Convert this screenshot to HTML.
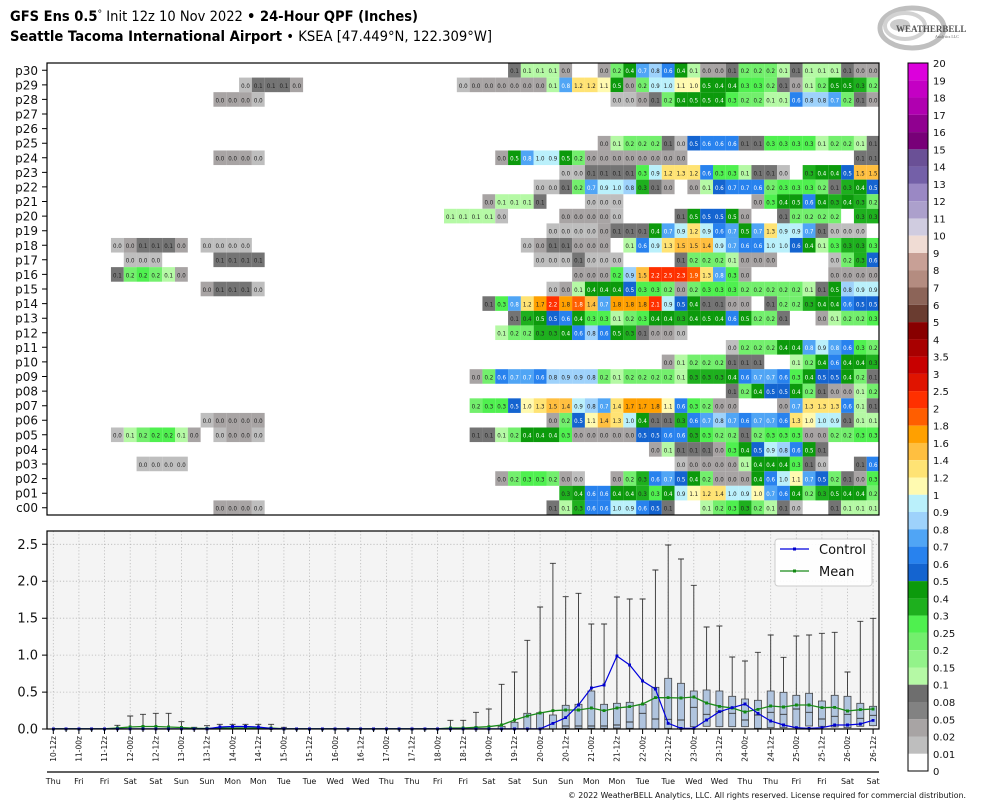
<!DOCTYPE html>
<html><head><meta charset="utf-8"><style>
html,body{margin:0;padding:0;background:#fff}
svg{display:block}
.hm rect{y:-7px;width:10px;height:10px}
.hm text{font-family:"DejaVu Sans",sans-serif;font-size:4.3px;text-anchor:middle;fill:#222}
.a{fill:#bebebe}.b{fill:#a8a4a4}.c{fill:#747474}.d{fill:#b5f9a5}.f{fill:#73ef6d}.g{fill:#4ff04f}.h{fill:#1eb01e}.i{fill:#0c9a0c}.j{fill:#1464d0}.k{fill:#2882ee}.l{fill:#50a5f5}.m{fill:#9ed2fb}.n{fill:#baf0fb}.o{fill:#fffab0}.p{fill:#ffe374}.q{fill:#ffbf40}.r{fill:#ffa000}.s{fill:#ff5e00}.t{fill:#ff3000}
.i+text,.j+text,.k+text,.l+text,.s+text,.t+text{fill:#fff}
.yl{font-family:"DejaVu Sans",sans-serif;font-size:12px;text-anchor:end;fill:#111}
.xl{font-family:"DejaVu Sans",sans-serif;font-size:7.5px;text-anchor:end;fill:#111}
.dl{font-family:"DejaVu Sans",sans-serif;font-size:8px;text-anchor:middle;fill:#111}
.cb{font-family:"DejaVu Sans",sans-serif;font-size:10px;fill:#111}
</style></head><body>
<svg width="984" height="808" viewBox="0 0 984 808" xmlns="http://www.w3.org/2000/svg">
<rect width="984" height="808" fill="#fff"/>
<!-- titles -->
<text x="10" y="21" font-family="DejaVu Sans,sans-serif" font-size="14" textLength="408" lengthAdjust="spacingAndGlyphs"><tspan font-weight="bold">GFS Ens 0.5</tspan><tspan font-size="10" dy="-4">°</tspan><tspan dy="4"> Init 12z 10 Nov 2022 </tspan><tspan font-weight="bold">• 24-Hour QPF (Inches)</tspan></text>
<text x="10" y="41" font-family="DejaVu Sans,sans-serif" font-size="14" textLength="482" lengthAdjust="spacingAndGlyphs"><tspan font-weight="bold">Seattle Tacoma International Airport</tspan><tspan> • KSEA [47.449°N, 122.309°W]</tspan></text>
<!-- logo -->
<g opacity="0.75">
<ellipse cx="912" cy="28" rx="32" ry="20" fill="none" stroke="#aaa" stroke-width="5"/>
<ellipse cx="905" cy="26" rx="20" ry="13" fill="none" stroke="#c4c4c4" stroke-width="4"/>
<ellipse cx="900" cy="25" rx="10" ry="6" fill="#bbb"/>
</g>
<text x="896" y="32" font-family="Liberation Serif,serif" font-size="9" fill="#555" font-weight="bold">WEATHERBELL</text>
<text x="935" y="38" font-family="Liberation Serif,serif" font-size="4" fill="#666">Analytics LLC</text>

<!-- heatmap y labels -->
<g class="yl">
<text x="38" y="75">p30</text><text x="38" y="89.5">p29</text><text x="38" y="104">p28</text><text x="38" y="118.5">p27</text><text x="38" y="133">p26</text><text x="38" y="147.7">p25</text><text x="38" y="162.3">p24</text><text x="38" y="176.9">p23</text><text x="38" y="191.4">p22</text><text x="38" y="206">p21</text><text x="38" y="220.6">p20</text><text x="38" y="235.2">p19</text><text x="38" y="249.8">p18</text><text x="38" y="264.3">p17</text><text x="38" y="278.9">p16</text><text x="38" y="293.5">p15</text><text x="38" y="308.1">p14</text><text x="38" y="322.7">p13</text><text x="38" y="337.3">p12</text><text x="38" y="351.8">p11</text><text x="38" y="366.4">p10</text><text x="38" y="381">p09</text><text x="38" y="395.6">p08</text><text x="38" y="410.2">p07</text><text x="38" y="424.7">p06</text><text x="38" y="439.3">p05</text><text x="38" y="453.9">p04</text><text x="38" y="468.5">p03</text><text x="38" y="483.1">p02</text><text x="38" y="497.7">p01</text><text x="38" y="512.2">c00</text>
</g>
<path d="M42 70.3H47M42 84.9H47M42 99.4H47M42 114H47M42 128.6H47M42 143.2H47M42 157.8H47M42 172.4H47M42 186.9H47M42 201.5H47M42 216.1H47M42 230.7H47M42 245.3H47M42 259.8H47M42 274.4H47M42 289H47M42 303.6H47M42 318.2H47M42 332.8H47M42 347.3H47M42 361.9H47M42 376.5H47M42 391.1H47M42 405.7H47M42 420.2H47M42 434.8H47M42 449.4H47M42 464H47M42 478.6H47M42 493.2H47M42 507.7H47" stroke="#000" stroke-width="1"/>

<!-- heatmap -->
<svg x="47" y="63" width="832" height="452" overflow="hidden">
<g class="hm" transform="translate(-0.1,0) scale(1.281,1.458)">
<g transform="translate(0,7)"><rect x="360" class="c"/><text x="365">0.1</text><rect x="370" class="d"/><text x="375">0.1</text><rect x="380" class="d"/><text x="385">0.1</text><rect x="390" class="d"/><text x="395">0.1</text><rect x="400" class="b"/><text x="405">0.0</text><rect x="430" class="b"/><text x="435">0.0</text><rect x="440" class="f"/><text x="445">0.2</text><rect x="450" class="i"/><text x="455">0.4</text><rect x="460" class="l"/><text x="465">0.7</text><rect x="470" class="m"/><text x="475">0.8</text><rect x="480" class="k"/><text x="485">0.6</text><rect x="490" class="i"/><text x="495">0.4</text><rect x="500" class="d"/><text x="505">0.1</text><rect x="510" class="b"/><text x="515">0.0</text><rect x="520" class="b"/><text x="525">0.0</text><rect x="530" class="c"/><text x="535">0.1</text><rect x="540" class="f"/><text x="545">0.2</text><rect x="550" class="f"/><text x="555">0.2</text><rect x="560" class="f"/><text x="565">0.2</text><rect x="570" class="d"/><text x="575">0.1</text><rect x="580" class="c"/><text x="585">0.1</text><rect x="590" class="d"/><text x="595">0.1</text><rect x="600" class="d"/><text x="605">0.1</text><rect x="610" class="d"/><text x="615">0.1</text><rect x="620" class="c"/><text x="625">0.1</text><rect x="630" class="b"/><text x="635">0.0</text><rect x="640" class="b"/><text x="645">0.0</text></g>
<g transform="translate(0,17)"><rect x="150" class="a"/><text x="155">0.0</text><rect x="160" class="c"/><text x="165">0.1</text><rect x="170" class="c"/><text x="175">0.1</text><rect x="180" class="c"/><text x="185">0.1</text><rect x="190" class="b"/><text x="195">0.0</text><rect x="320" class="a"/><text x="325">0.0</text><rect x="330" class="b"/><text x="335">0.0</text><rect x="340" class="b"/><text x="345">0.0</text><rect x="350" class="b"/><text x="355">0.0</text><rect x="360" class="b"/><text x="365">0.0</text><rect x="370" class="b"/><text x="375">0.0</text><rect x="380" class="b"/><text x="385">0.0</text><rect x="390" class="d"/><text x="395">0.1</text><rect x="400" class="l"/><text x="405">0.8</text><rect x="410" class="p"/><text x="415">1.2</text><rect x="420" class="p"/><text x="425">1.2</text><rect x="430" class="o"/><text x="435">1.1</text><rect x="440" class="i"/><text x="445">0.5</text><rect x="450" class="b"/><text x="455">0.0</text><rect x="460" class="f"/><text x="465">0.2</text><rect x="470" class="n"/><text x="475">0.9</text><rect x="480" class="n"/><text x="485">1.0</text><rect x="490" class="o"/><text x="495">1.1</text><rect x="500" class="o"/><text x="505">1.0</text><rect x="510" class="i"/><text x="515">0.5</text><rect x="520" class="i"/><text x="525">0.4</text><rect x="530" class="i"/><text x="535">0.4</text><rect x="540" class="g"/><text x="545">0.3</text><rect x="550" class="g"/><text x="555">0.3</text><rect x="560" class="f"/><text x="565">0.2</text><rect x="570" class="c"/><text x="575">0.1</text><rect x="580" class="b"/><text x="585">0.0</text><rect x="590" class="d"/><text x="595">0.1</text><rect x="600" class="f"/><text x="605">0.2</text><rect x="610" class="i"/><text x="615">0.5</text><rect x="620" class="i"/><text x="625">0.5</text><rect x="630" class="h"/><text x="635">0.3</text><rect x="640" class="f"/><text x="645">0.2</text></g>
<g transform="translate(0,27)"><rect x="130" class="b"/><text x="135">0.0</text><rect x="140" class="b"/><text x="145">0.0</text><rect x="150" class="b"/><text x="155">0.0</text><rect x="160" class="a"/><text x="165">0.0</text><rect x="440" class="a"/><text x="445">0.0</text><rect x="450" class="a"/><text x="455">0.0</text><rect x="460" class="b"/><text x="465">0.0</text><rect x="470" class="c"/><text x="475">0.1</text><rect x="480" class="f"/><text x="485">0.2</text><rect x="490" class="i"/><text x="495">0.4</text><rect x="500" class="i"/><text x="505">0.5</text><rect x="510" class="i"/><text x="515">0.5</text><rect x="520" class="i"/><text x="525">0.4</text><rect x="530" class="g"/><text x="535">0.3</text><rect x="540" class="f"/><text x="545">0.2</text><rect x="550" class="f"/><text x="555">0.2</text><rect x="560" class="d"/><text x="565">0.1</text><rect x="570" class="d"/><text x="575">0.1</text><rect x="580" class="k"/><text x="585">0.6</text><rect x="590" class="m"/><text x="595">0.8</text><rect x="600" class="m"/><text x="605">0.8</text><rect x="610" class="l"/><text x="615">0.7</text><rect x="620" class="f"/><text x="625">0.2</text><rect x="630" class="c"/><text x="635">0.1</text><rect x="640" class="b"/><text x="645">0.0</text></g>
<g transform="translate(0,57)"><rect x="430" class="b"/><text x="435">0.0</text><rect x="440" class="d"/><text x="445">0.1</text><rect x="450" class="f"/><text x="455">0.2</text><rect x="460" class="f"/><text x="465">0.2</text><rect x="470" class="f"/><text x="475">0.2</text><rect x="480" class="c"/><text x="485">0.1</text><rect x="490" class="a"/><text x="495">0.0</text><rect x="500" class="j"/><text x="505">0.5</text><rect x="510" class="k"/><text x="515">0.6</text><rect x="520" class="k"/><text x="525">0.6</text><rect x="530" class="k"/><text x="535">0.6</text><rect x="540" class="c"/><text x="545">0.1</text><rect x="550" class="c"/><text x="555">0.1</text><rect x="560" class="g"/><text x="565">0.3</text><rect x="570" class="g"/><text x="575">0.3</text><rect x="580" class="g"/><text x="585">0.3</text><rect x="590" class="g"/><text x="595">0.3</text><rect x="600" class="d"/><text x="605">0.1</text><rect x="610" class="f"/><text x="615">0.2</text><rect x="620" class="f"/><text x="625">0.2</text><rect x="630" class="d"/><text x="635">0.1</text><rect x="640" class="c"/><text x="645">0.1</text></g>
<g transform="translate(0,67)"><rect x="130" class="b"/><text x="135">0.0</text><rect x="140" class="b"/><text x="145">0.0</text><rect x="150" class="b"/><text x="155">0.0</text><rect x="160" class="a"/><text x="165">0.0</text><rect x="350" class="b"/><text x="355">0.0</text><rect x="360" class="i"/><text x="365">0.5</text><rect x="370" class="l"/><text x="375">0.8</text><rect x="380" class="n"/><text x="385">1.0</text><rect x="390" class="n"/><text x="395">0.9</text><rect x="400" class="i"/><text x="405">0.5</text><rect x="410" class="f"/><text x="415">0.2</text><rect x="420" class="b"/><text x="425">0.0</text><rect x="430" class="b"/><text x="435">0.0</text><rect x="440" class="b"/><text x="445">0.0</text><rect x="450" class="b"/><text x="455">0.0</text><rect x="460" class="b"/><text x="465">0.0</text><rect x="470" class="b"/><text x="475">0.0</text><rect x="480" class="b"/><text x="485">0.0</text><rect x="490" class="b"/><text x="495">0.0</text><rect x="630" class="c"/><text x="635">0.1</text><rect x="640" class="c"/><text x="645">0.1</text></g>
<g transform="translate(0,77)"><rect x="400" class="a"/><text x="405">0.0</text><rect x="410" class="a"/><text x="415">0.0</text><rect x="420" class="c"/><text x="425">0.1</text><rect x="430" class="c"/><text x="435">0.1</text><rect x="440" class="c"/><text x="445">0.1</text><rect x="450" class="c"/><text x="455">0.1</text><rect x="460" class="g"/><text x="465">0.3</text><rect x="470" class="n"/><text x="475">0.9</text><rect x="480" class="p"/><text x="485">1.2</text><rect x="490" class="p"/><text x="495">1.3</text><rect x="500" class="p"/><text x="505">1.2</text><rect x="510" class="k"/><text x="515">0.6</text><rect x="520" class="g"/><text x="525">0.3</text><rect x="530" class="g"/><text x="535">0.3</text><rect x="540" class="d"/><text x="545">0.1</text><rect x="550" class="c"/><text x="555">0.1</text><rect x="560" class="c"/><text x="565">0.1</text><rect x="570" class="a"/><text x="575">0.0</text><rect x="590" class="h"/><text x="595">0.3</text><rect x="600" class="i"/><text x="605">0.4</text><rect x="610" class="i"/><text x="615">0.4</text><rect x="620" class="j"/><text x="625">0.5</text><rect x="630" class="q"/><text x="635">1.5</text><rect x="640" class="q"/><text x="645">1.5</text></g>
<g transform="translate(0,87)"><rect x="380" class="a"/><text x="385">0.0</text><rect x="390" class="a"/><text x="395">0.0</text><rect x="400" class="c"/><text x="405">0.1</text><rect x="410" class="f"/><text x="415">0.2</text><rect x="420" class="l"/><text x="425">0.7</text><rect x="430" class="n"/><text x="435">0.9</text><rect x="440" class="n"/><text x="445">1.0</text><rect x="450" class="m"/><text x="455">0.8</text><rect x="460" class="h"/><text x="465">0.3</text><rect x="470" class="c"/><text x="475">0.1</text><rect x="480" class="b"/><text x="485">0.0</text><rect x="500" class="b"/><text x="505">0.0</text><rect x="510" class="d"/><text x="515">0.1</text><rect x="520" class="j"/><text x="525">0.6</text><rect x="530" class="k"/><text x="535">0.7</text><rect x="540" class="k"/><text x="545">0.7</text><rect x="550" class="k"/><text x="555">0.6</text><rect x="560" class="f"/><text x="565">0.2</text><rect x="570" class="g"/><text x="575">0.3</text><rect x="580" class="g"/><text x="585">0.3</text><rect x="590" class="g"/><text x="595">0.3</text><rect x="600" class="f"/><text x="605">0.2</text><rect x="610" class="c"/><text x="615">0.1</text><rect x="620" class="h"/><text x="625">0.3</text><rect x="630" class="i"/><text x="635">0.4</text><rect x="640" class="j"/><text x="645">0.5</text></g>
<g transform="translate(0,97)"><rect x="340" class="b"/><text x="345">0.0</text><rect x="350" class="d"/><text x="355">0.1</text><rect x="360" class="d"/><text x="365">0.1</text><rect x="370" class="d"/><text x="375">0.1</text><rect x="380" class="c"/><text x="385">0.1</text><rect x="420" class="a"/><text x="425">0.0</text><rect x="430" class="a"/><text x="435">0.0</text><rect x="440" class="a"/><text x="445">0.0</text><rect x="550" class="b"/><text x="555">0.0</text><rect x="560" class="g"/><text x="565">0.3</text><rect x="570" class="i"/><text x="575">0.4</text><rect x="580" class="i"/><text x="585">0.5</text><rect x="590" class="k"/><text x="595">0.6</text><rect x="600" class="i"/><text x="605">0.4</text><rect x="610" class="h"/><text x="615">0.3</text><rect x="620" class="i"/><text x="625">0.4</text><rect x="630" class="h"/><text x="635">0.3</text><rect x="640" class="f"/><text x="645">0.2</text></g>
<g transform="translate(0,107)"><rect x="310" class="d"/><text x="315">0.1</text><rect x="320" class="d"/><text x="325">0.1</text><rect x="330" class="d"/><text x="335">0.1</text><rect x="340" class="d"/><text x="345">0.1</text><rect x="350" class="a"/><text x="355">0.0</text><rect x="400" class="b"/><text x="405">0.0</text><rect x="410" class="b"/><text x="415">0.0</text><rect x="420" class="b"/><text x="425">0.0</text><rect x="430" class="b"/><text x="435">0.0</text><rect x="440" class="a"/><text x="445">0.0</text><rect x="490" class="c"/><text x="495">0.1</text><rect x="500" class="i"/><text x="505">0.5</text><rect x="510" class="j"/><text x="515">0.5</text><rect x="520" class="j"/><text x="525">0.5</text><rect x="530" class="i"/><text x="535">0.5</text><rect x="540" class="b"/><text x="545">0.0</text><rect x="570" class="c"/><text x="575">0.1</text><rect x="580" class="f"/><text x="585">0.2</text><rect x="590" class="f"/><text x="595">0.2</text><rect x="600" class="f"/><text x="605">0.2</text><rect x="610" class="f"/><text x="615">0.2</text><rect x="630" class="h"/><text x="635">0.3</text><rect x="640" class="h"/><text x="645">0.3</text></g>
<g transform="translate(0,117)"><rect x="390" class="a"/><text x="395">0.0</text><rect x="400" class="a"/><text x="405">0.0</text><rect x="410" class="a"/><text x="415">0.0</text><rect x="420" class="a"/><text x="425">0.0</text><rect x="430" class="b"/><text x="435">0.0</text><rect x="440" class="c"/><text x="445">0.1</text><rect x="450" class="c"/><text x="455">0.1</text><rect x="460" class="c"/><text x="465">0.1</text><rect x="470" class="i"/><text x="475">0.4</text><rect x="480" class="l"/><text x="485">0.7</text><rect x="490" class="n"/><text x="495">0.9</text><rect x="500" class="p"/><text x="505">1.2</text><rect x="510" class="n"/><text x="515">0.9</text><rect x="520" class="k"/><text x="525">0.6</text><rect x="530" class="l"/><text x="535">0.7</text><rect x="540" class="i"/><text x="545">0.5</text><rect x="550" class="l"/><text x="555">0.7</text><rect x="560" class="p"/><text x="565">1.3</text><rect x="570" class="n"/><text x="575">0.9</text><rect x="580" class="n"/><text x="585">0.9</text><rect x="590" class="l"/><text x="595">0.7</text><rect x="600" class="c"/><text x="605">0.1</text><rect x="610" class="a"/><text x="615">0.0</text><rect x="620" class="a"/><text x="625">0.0</text><rect x="630" class="a"/><text x="635">0.0</text></g>
<g transform="translate(0,127)"><rect x="50" class="a"/><text x="55">0.0</text><rect x="60" class="b"/><text x="65">0.0</text><rect x="70" class="c"/><text x="75">0.1</text><rect x="80" class="c"/><text x="85">0.1</text><rect x="90" class="c"/><text x="95">0.1</text><rect x="100" class="b"/><text x="105">0.0</text><rect x="120" class="a"/><text x="125">0.0</text><rect x="130" class="a"/><text x="135">0.0</text><rect x="140" class="a"/><text x="145">0.0</text><rect x="150" class="a"/><text x="155">0.0</text><rect x="370" class="a"/><text x="375">0.0</text><rect x="380" class="b"/><text x="385">0.0</text><rect x="390" class="c"/><text x="395">0.1</text><rect x="400" class="c"/><text x="405">0.1</text><rect x="410" class="b"/><text x="415">0.0</text><rect x="420" class="b"/><text x="425">0.0</text><rect x="430" class="b"/><text x="435">0.0</text><rect x="450" class="d"/><text x="455">0.1</text><rect x="460" class="k"/><text x="465">0.6</text><rect x="470" class="n"/><text x="475">0.9</text><rect x="480" class="p"/><text x="485">1.3</text><rect x="490" class="q"/><text x="495">1.5</text><rect x="500" class="q"/><text x="505">1.5</text><rect x="510" class="q"/><text x="515">1.4</text><rect x="520" class="n"/><text x="525">0.9</text><rect x="530" class="l"/><text x="535">0.7</text><rect x="540" class="k"/><text x="545">0.6</text><rect x="550" class="k"/><text x="555">0.6</text><rect x="560" class="n"/><text x="565">1.0</text><rect x="570" class="n"/><text x="575">1.0</text><rect x="580" class="j"/><text x="585">0.6</text><rect x="590" class="i"/><text x="595">0.4</text><rect x="600" class="d"/><text x="605">0.1</text><rect x="610" class="g"/><text x="615">0.3</text><rect x="620" class="h"/><text x="625">0.3</text><rect x="630" class="h"/><text x="635">0.3</text><rect x="640" class="g"/><text x="645">0.3</text></g>
<g transform="translate(0,137)"><rect x="60" class="a"/><text x="65">0.0</text><rect x="70" class="a"/><text x="75">0.0</text><rect x="80" class="a"/><text x="85">0.0</text><rect x="130" class="c"/><text x="135">0.1</text><rect x="140" class="c"/><text x="145">0.1</text><rect x="150" class="c"/><text x="155">0.1</text><rect x="160" class="c"/><text x="165">0.1</text><rect x="380" class="a"/><text x="385">0.0</text><rect x="390" class="a"/><text x="395">0.0</text><rect x="400" class="a"/><text x="405">0.0</text><rect x="410" class="c"/><text x="415">0.1</text><rect x="420" class="a"/><text x="425">0.0</text><rect x="430" class="a"/><text x="435">0.0</text><rect x="440" class="a"/><text x="445">0.0</text><rect x="490" class="c"/><text x="495">0.1</text><rect x="500" class="f"/><text x="505">0.2</text><rect x="510" class="f"/><text x="515">0.2</text><rect x="520" class="f"/><text x="525">0.2</text><rect x="530" class="d"/><text x="535">0.1</text><rect x="540" class="b"/><text x="545">0.0</text><rect x="550" class="b"/><text x="555">0.0</text><rect x="560" class="b"/><text x="565">0.0</text><rect x="610" class="a"/><text x="615">0.0</text><rect x="620" class="f"/><text x="625">0.2</text><rect x="630" class="h"/><text x="635">0.3</text><rect x="640" class="j"/><text x="645">0.6</text></g>
<g transform="translate(0,147)"><rect x="50" class="c"/><text x="55">0.1</text><rect x="60" class="f"/><text x="65">0.2</text><rect x="70" class="g"/><text x="75">0.2</text><rect x="80" class="f"/><text x="85">0.2</text><rect x="90" class="d"/><text x="95">0.1</text><rect x="100" class="b"/><text x="105">0.0</text><rect x="410" class="b"/><text x="415">0.0</text><rect x="420" class="b"/><text x="425">0.0</text><rect x="430" class="b"/><text x="435">0.0</text><rect x="440" class="g"/><text x="445">0.2</text><rect x="450" class="m"/><text x="455">0.9</text><rect x="460" class="q"/><text x="465">1.5</text><rect x="470" class="t"/><text x="475">2.2</text><rect x="480" class="t"/><text x="485">2.5</text><rect x="490" class="t"/><text x="495">2.3</text><rect x="500" class="s"/><text x="505">1.9</text><rect x="510" class="p"/><text x="515">1.3</text><rect x="520" class="l"/><text x="525">0.8</text><rect x="530" class="g"/><text x="535">0.3</text><rect x="540" class="b"/><text x="545">0.0</text><rect x="610" class="b"/><text x="615">0.0</text><rect x="620" class="b"/><text x="625">0.0</text><rect x="630" class="b"/><text x="635">0.0</text><rect x="640" class="b"/><text x="645">0.0</text></g>
<g transform="translate(0,157)"><rect x="120" class="b"/><text x="125">0.0</text><rect x="130" class="c"/><text x="135">0.1</text><rect x="140" class="c"/><text x="145">0.1</text><rect x="150" class="c"/><text x="155">0.1</text><rect x="160" class="a"/><text x="165">0.0</text><rect x="390" class="a"/><text x="395">0.0</text><rect x="400" class="b"/><text x="405">0.0</text><rect x="410" class="d"/><text x="415">0.1</text><rect x="420" class="i"/><text x="425">0.4</text><rect x="430" class="i"/><text x="435">0.4</text><rect x="440" class="i"/><text x="445">0.4</text><rect x="450" class="j"/><text x="455">0.5</text><rect x="460" class="g"/><text x="465">0.3</text><rect x="470" class="g"/><text x="475">0.3</text><rect x="480" class="f"/><text x="485">0.2</text><rect x="490" class="b"/><text x="495">0.0</text><rect x="500" class="f"/><text x="505">0.2</text><rect x="510" class="g"/><text x="515">0.3</text><rect x="520" class="g"/><text x="525">0.3</text><rect x="530" class="g"/><text x="535">0.3</text><rect x="540" class="f"/><text x="545">0.2</text><rect x="550" class="f"/><text x="555">0.2</text><rect x="560" class="f"/><text x="565">0.2</text><rect x="570" class="f"/><text x="575">0.2</text><rect x="580" class="f"/><text x="585">0.2</text><rect x="590" class="d"/><text x="595">0.1</text><rect x="600" class="c"/><text x="605">0.1</text><rect x="610" class="i"/><text x="615">0.5</text><rect x="620" class="m"/><text x="625">0.8</text><rect x="630" class="n"/><text x="635">0.9</text><rect x="640" class="n"/><text x="645">0.9</text></g>
<g transform="translate(0,167)"><rect x="340" class="c"/><text x="345">0.1</text><rect x="350" class="g"/><text x="355">0.3</text><rect x="360" class="l"/><text x="365">0.8</text><rect x="370" class="p"/><text x="375">1.2</text><rect x="380" class="r"/><text x="385">1.7</text><rect x="390" class="t"/><text x="395">2.2</text><rect x="400" class="r"/><text x="405">1.8</text><rect x="410" class="s"/><text x="415">1.8</text><rect x="420" class="q"/><text x="425">1.4</text><rect x="430" class="l"/><text x="435">0.7</text><rect x="440" class="r"/><text x="445">1.8</text><rect x="450" class="r"/><text x="455">1.8</text><rect x="460" class="r"/><text x="465">1.8</text><rect x="470" class="t"/><text x="475">2.1</text><rect x="480" class="n"/><text x="485">0.9</text><rect x="490" class="j"/><text x="495">0.5</text><rect x="500" class="i"/><text x="505">0.4</text><rect x="510" class="c"/><text x="515">0.1</text><rect x="520" class="c"/><text x="525">0.1</text><rect x="530" class="b"/><text x="535">0.0</text><rect x="540" class="b"/><text x="545">0.0</text><rect x="560" class="c"/><text x="565">0.1</text><rect x="570" class="f"/><text x="575">0.2</text><rect x="580" class="f"/><text x="585">0.2</text><rect x="590" class="h"/><text x="595">0.3</text><rect x="600" class="i"/><text x="605">0.4</text><rect x="610" class="i"/><text x="615">0.4</text><rect x="620" class="k"/><text x="625">0.6</text><rect x="630" class="j"/><text x="635">0.5</text><rect x="640" class="j"/><text x="645">0.5</text></g>
<g transform="translate(0,177)"><rect x="360" class="c"/><text x="365">0.1</text><rect x="370" class="h"/><text x="375">0.4</text><rect x="380" class="i"/><text x="385">0.5</text><rect x="390" class="j"/><text x="395">0.5</text><rect x="400" class="k"/><text x="405">0.6</text><rect x="410" class="i"/><text x="415">0.4</text><rect x="420" class="g"/><text x="425">0.3</text><rect x="430" class="g"/><text x="435">0.3</text><rect x="440" class="d"/><text x="445">0.1</text><rect x="450" class="f"/><text x="455">0.2</text><rect x="460" class="g"/><text x="465">0.3</text><rect x="470" class="i"/><text x="475">0.4</text><rect x="480" class="i"/><text x="485">0.4</text><rect x="490" class="h"/><text x="495">0.3</text><rect x="500" class="i"/><text x="505">0.4</text><rect x="510" class="i"/><text x="515">0.5</text><rect x="520" class="i"/><text x="525">0.4</text><rect x="530" class="k"/><text x="535">0.6</text><rect x="540" class="i"/><text x="545">0.5</text><rect x="550" class="f"/><text x="555">0.2</text><rect x="560" class="f"/><text x="565">0.2</text><rect x="570" class="c"/><text x="575">0.1</text><rect x="600" class="b"/><text x="605">0.0</text><rect x="610" class="d"/><text x="615">0.1</text><rect x="620" class="f"/><text x="625">0.2</text><rect x="630" class="f"/><text x="635">0.2</text><rect x="640" class="g"/><text x="645">0.3</text></g>
<g transform="translate(0,187)"><rect x="350" class="d"/><text x="355">0.1</text><rect x="360" class="f"/><text x="365">0.2</text><rect x="370" class="f"/><text x="375">0.2</text><rect x="380" class="h"/><text x="385">0.3</text><rect x="390" class="h"/><text x="395">0.3</text><rect x="400" class="i"/><text x="405">0.4</text><rect x="410" class="k"/><text x="415">0.6</text><rect x="420" class="m"/><text x="425">0.8</text><rect x="430" class="k"/><text x="435">0.6</text><rect x="440" class="i"/><text x="445">0.5</text><rect x="450" class="h"/><text x="455">0.3</text><rect x="460" class="c"/><text x="465">0.1</text><rect x="470" class="b"/><text x="475">0.0</text><rect x="480" class="b"/><text x="485">0.0</text><rect x="490" class="a"/><text x="495">0.0</text></g>
<g transform="translate(0,197)"><rect x="530" class="a"/><text x="535">0.0</text><rect x="540" class="f"/><text x="545">0.2</text><rect x="550" class="f"/><text x="555">0.2</text><rect x="560" class="f"/><text x="565">0.2</text><rect x="570" class="i"/><text x="575">0.4</text><rect x="580" class="i"/><text x="585">0.4</text><rect x="590" class="l"/><text x="595">0.8</text><rect x="600" class="n"/><text x="605">0.9</text><rect x="610" class="l"/><text x="615">0.8</text><rect x="620" class="k"/><text x="625">0.6</text><rect x="630" class="g"/><text x="635">0.3</text><rect x="640" class="f"/><text x="645">0.2</text></g>
<g transform="translate(0,207)"><rect x="480" class="b"/><text x="485">0.0</text><rect x="490" class="d"/><text x="495">0.1</text><rect x="500" class="f"/><text x="505">0.2</text><rect x="510" class="f"/><text x="515">0.2</text><rect x="520" class="f"/><text x="525">0.2</text><rect x="530" class="c"/><text x="535">0.1</text><rect x="540" class="c"/><text x="545">0.1</text><rect x="550" class="c"/><text x="555">0.1</text><rect x="580" class="d"/><text x="585">0.1</text><rect x="590" class="f"/><text x="595">0.2</text><rect x="600" class="i"/><text x="605">0.4</text><rect x="610" class="k"/><text x="615">0.6</text><rect x="620" class="i"/><text x="625">0.4</text><rect x="630" class="i"/><text x="635">0.4</text><rect x="640" class="h"/><text x="645">0.3</text></g>
<g transform="translate(0,217)"><rect x="330" class="b"/><text x="335">0.0</text><rect x="340" class="f"/><text x="345">0.2</text><rect x="350" class="k"/><text x="355">0.6</text><rect x="360" class="l"/><text x="365">0.7</text><rect x="370" class="l"/><text x="375">0.7</text><rect x="380" class="k"/><text x="385">0.6</text><rect x="390" class="m"/><text x="395">0.8</text><rect x="400" class="m"/><text x="405">0.9</text><rect x="410" class="m"/><text x="415">0.9</text><rect x="420" class="m"/><text x="425">0.8</text><rect x="430" class="f"/><text x="435">0.2</text><rect x="440" class="d"/><text x="445">0.1</text><rect x="450" class="f"/><text x="455">0.2</text><rect x="460" class="f"/><text x="465">0.2</text><rect x="470" class="f"/><text x="475">0.2</text><rect x="480" class="f"/><text x="485">0.2</text><rect x="490" class="d"/><text x="495">0.1</text><rect x="500" class="h"/><text x="505">0.3</text><rect x="510" class="h"/><text x="515">0.3</text><rect x="520" class="h"/><text x="525">0.3</text><rect x="530" class="i"/><text x="535">0.4</text><rect x="540" class="k"/><text x="545">0.6</text><rect x="550" class="l"/><text x="555">0.7</text><rect x="560" class="l"/><text x="565">0.7</text><rect x="570" class="k"/><text x="575">0.6</text><rect x="580" class="g"/><text x="585">0.3</text><rect x="590" class="i"/><text x="595">0.4</text><rect x="600" class="j"/><text x="605">0.5</text><rect x="610" class="j"/><text x="615">0.5</text><rect x="620" class="i"/><text x="625">0.4</text><rect x="630" class="f"/><text x="635">0.2</text><rect x="640" class="c"/><text x="645">0.1</text></g>
<g transform="translate(0,227)"><rect x="530" class="c"/><text x="535">0.1</text><rect x="540" class="f"/><text x="545">0.2</text><rect x="550" class="i"/><text x="555">0.4</text><rect x="560" class="j"/><text x="565">0.5</text><rect x="570" class="j"/><text x="575">0.5</text><rect x="580" class="i"/><text x="585">0.4</text><rect x="590" class="f"/><text x="595">0.2</text><rect x="600" class="c"/><text x="605">0.1</text><rect x="610" class="b"/><text x="615">0.0</text><rect x="620" class="b"/><text x="625">0.0</text><rect x="630" class="d"/><text x="635">0.1</text><rect x="640" class="f"/><text x="645">0.2</text></g>
<g transform="translate(0,237)"><rect x="330" class="f"/><text x="335">0.2</text><rect x="340" class="g"/><text x="345">0.3</text><rect x="350" class="g"/><text x="355">0.3</text><rect x="360" class="j"/><text x="365">0.5</text><rect x="370" class="o"/><text x="375">1.0</text><rect x="380" class="p"/><text x="385">1.3</text><rect x="390" class="q"/><text x="395">1.5</text><rect x="400" class="q"/><text x="405">1.4</text><rect x="410" class="n"/><text x="415">0.9</text><rect x="420" class="m"/><text x="425">0.8</text><rect x="430" class="l"/><text x="435">0.7</text><rect x="440" class="p"/><text x="445">1.4</text><rect x="450" class="r"/><text x="455">1.7</text><rect x="460" class="r"/><text x="465">1.7</text><rect x="470" class="r"/><text x="475">1.8</text><rect x="480" class="o"/><text x="485">1.1</text><rect x="490" class="k"/><text x="495">0.6</text><rect x="500" class="g"/><text x="505">0.3</text><rect x="510" class="f"/><text x="515">0.2</text><rect x="520" class="b"/><text x="525">0.0</text><rect x="530" class="b"/><text x="535">0.0</text><rect x="570" class="b"/><text x="575">0.0</text><rect x="580" class="l"/><text x="585">0.7</text><rect x="590" class="p"/><text x="595">1.3</text><rect x="600" class="p"/><text x="605">1.3</text><rect x="610" class="p"/><text x="615">1.3</text><rect x="620" class="k"/><text x="625">0.6</text><rect x="630" class="d"/><text x="635">0.1</text><rect x="640" class="c"/><text x="645">0.1</text></g>
<g transform="translate(0,247)"><rect x="120" class="a"/><text x="125">0.0</text><rect x="130" class="b"/><text x="135">0.0</text><rect x="140" class="b"/><text x="145">0.0</text><rect x="150" class="b"/><text x="155">0.0</text><rect x="160" class="b"/><text x="165">0.0</text><rect x="390" class="b"/><text x="395">0.0</text><rect x="400" class="f"/><text x="405">0.2</text><rect x="410" class="j"/><text x="415">0.5</text><rect x="420" class="o"/><text x="425">1.1</text><rect x="430" class="q"/><text x="435">1.4</text><rect x="440" class="p"/><text x="445">1.3</text><rect x="450" class="n"/><text x="455">1.0</text><rect x="460" class="i"/><text x="465">0.4</text><rect x="470" class="c"/><text x="475">0.1</text><rect x="480" class="c"/><text x="485">0.1</text><rect x="490" class="h"/><text x="495">0.3</text><rect x="500" class="k"/><text x="505">0.6</text><rect x="510" class="l"/><text x="515">0.7</text><rect x="520" class="m"/><text x="525">0.8</text><rect x="530" class="l"/><text x="535">0.7</text><rect x="540" class="k"/><text x="545">0.6</text><rect x="550" class="l"/><text x="555">0.7</text><rect x="560" class="l"/><text x="565">0.7</text><rect x="570" class="k"/><text x="575">0.6</text><rect x="580" class="p"/><text x="585">1.3</text><rect x="590" class="o"/><text x="595">1.0</text><rect x="600" class="n"/><text x="605">1.0</text><rect x="610" class="n"/><text x="615">0.9</text><rect x="620" class="c"/><text x="625">0.1</text><rect x="630" class="d"/><text x="635">0.1</text><rect x="640" class="d"/><text x="645">0.1</text></g>
<g transform="translate(0,257)"><rect x="50" class="a"/><text x="55">0.0</text><rect x="60" class="d"/><text x="65">0.1</text><rect x="70" class="f"/><text x="75">0.2</text><rect x="80" class="g"/><text x="85">0.2</text><rect x="90" class="g"/><text x="95">0.2</text><rect x="100" class="d"/><text x="105">0.1</text><rect x="110" class="b"/><text x="115">0.0</text><rect x="130" class="a"/><text x="135">0.0</text><rect x="140" class="b"/><text x="145">0.0</text><rect x="150" class="b"/><text x="155">0.0</text><rect x="160" class="a"/><text x="165">0.0</text><rect x="330" class="c"/><text x="335">0.1</text><rect x="340" class="c"/><text x="345">0.1</text><rect x="350" class="d"/><text x="355">0.1</text><rect x="360" class="f"/><text x="365">0.2</text><rect x="370" class="i"/><text x="375">0.4</text><rect x="380" class="i"/><text x="385">0.4</text><rect x="390" class="i"/><text x="395">0.4</text><rect x="400" class="g"/><text x="405">0.3</text><rect x="410" class="b"/><text x="415">0.0</text><rect x="420" class="b"/><text x="425">0.0</text><rect x="430" class="b"/><text x="435">0.0</text><rect x="440" class="b"/><text x="445">0.0</text><rect x="450" class="b"/><text x="455">0.0</text><rect x="460" class="j"/><text x="465">0.5</text><rect x="470" class="j"/><text x="475">0.5</text><rect x="480" class="k"/><text x="485">0.6</text><rect x="490" class="k"/><text x="495">0.6</text><rect x="500" class="h"/><text x="505">0.3</text><rect x="510" class="g"/><text x="515">0.3</text><rect x="520" class="f"/><text x="525">0.2</text><rect x="530" class="f"/><text x="535">0.2</text><rect x="540" class="c"/><text x="545">0.1</text><rect x="550" class="f"/><text x="555">0.2</text><rect x="560" class="g"/><text x="565">0.3</text><rect x="570" class="g"/><text x="575">0.3</text><rect x="580" class="g"/><text x="585">0.3</text><rect x="590" class="b"/><text x="595">0.0</text><rect x="600" class="b"/><text x="605">0.0</text><rect x="610" class="f"/><text x="615">0.2</text><rect x="620" class="f"/><text x="625">0.2</text><rect x="630" class="g"/><text x="635">0.3</text><rect x="640" class="g"/><text x="645">0.3</text></g>
<g transform="translate(0,267)"><rect x="470" class="b"/><text x="475">0.0</text><rect x="480" class="d"/><text x="485">0.1</text><rect x="490" class="c"/><text x="495">0.1</text><rect x="500" class="c"/><text x="505">0.1</text><rect x="510" class="c"/><text x="515">0.1</text><rect x="520" class="b"/><text x="525">0.0</text><rect x="530" class="g"/><text x="535">0.3</text><rect x="540" class="i"/><text x="545">0.4</text><rect x="550" class="j"/><text x="555">0.5</text><rect x="560" class="n"/><text x="565">0.9</text><rect x="570" class="m"/><text x="575">0.8</text><rect x="580" class="k"/><text x="585">0.6</text><rect x="590" class="i"/><text x="595">0.5</text><rect x="600" class="c"/><text x="605">0.1</text></g>
<g transform="translate(0,277)"><rect x="70" class="a"/><text x="75">0.0</text><rect x="80" class="a"/><text x="85">0.0</text><rect x="90" class="a"/><text x="95">0.0</text><rect x="100" class="a"/><text x="105">0.0</text><rect x="490" class="a"/><text x="495">0.0</text><rect x="500" class="b"/><text x="505">0.0</text><rect x="510" class="b"/><text x="515">0.0</text><rect x="520" class="b"/><text x="525">0.0</text><rect x="530" class="b"/><text x="535">0.0</text><rect x="540" class="d"/><text x="545">0.1</text><rect x="550" class="i"/><text x="555">0.4</text><rect x="560" class="i"/><text x="565">0.4</text><rect x="570" class="i"/><text x="575">0.4</text><rect x="580" class="g"/><text x="585">0.3</text><rect x="590" class="c"/><text x="595">0.1</text><rect x="600" class="a"/><text x="605">0.0</text><rect x="630" class="c"/><text x="635">0.1</text><rect x="640" class="k"/><text x="645">0.6</text></g>
<g transform="translate(0,287)"><rect x="350" class="b"/><text x="355">0.0</text><rect x="360" class="f"/><text x="365">0.2</text><rect x="370" class="g"/><text x="375">0.3</text><rect x="380" class="g"/><text x="385">0.3</text><rect x="390" class="f"/><text x="395">0.2</text><rect x="400" class="b"/><text x="405">0.0</text><rect x="410" class="a"/><text x="415">0.0</text><rect x="440" class="b"/><text x="445">0.0</text><rect x="450" class="f"/><text x="455">0.2</text><rect x="460" class="h"/><text x="465">0.3</text><rect x="470" class="k"/><text x="475">0.6</text><rect x="480" class="l"/><text x="485">0.7</text><rect x="490" class="j"/><text x="495">0.5</text><rect x="500" class="i"/><text x="505">0.4</text><rect x="510" class="f"/><text x="515">0.2</text><rect x="520" class="b"/><text x="525">0.0</text><rect x="530" class="b"/><text x="535">0.0</text><rect x="540" class="b"/><text x="545">0.0</text><rect x="550" class="i"/><text x="555">0.4</text><rect x="560" class="k"/><text x="565">0.6</text><rect x="570" class="n"/><text x="575">1.0</text><rect x="580" class="o"/><text x="585">1.1</text><rect x="590" class="l"/><text x="595">0.7</text><rect x="600" class="j"/><text x="605">0.5</text><rect x="610" class="f"/><text x="615">0.2</text><rect x="620" class="c"/><text x="625">0.1</text><rect x="630" class="b"/><text x="635">0.0</text><rect x="640" class="g"/><text x="645">0.3</text></g>
<g transform="translate(0,297)"><rect x="400" class="h"/><text x="405">0.3</text><rect x="410" class="i"/><text x="415">0.4</text><rect x="420" class="k"/><text x="425">0.6</text><rect x="430" class="k"/><text x="435">0.6</text><rect x="440" class="i"/><text x="445">0.4</text><rect x="450" class="i"/><text x="455">0.4</text><rect x="460" class="h"/><text x="465">0.3</text><rect x="470" class="g"/><text x="475">0.3</text><rect x="480" class="i"/><text x="485">0.4</text><rect x="490" class="n"/><text x="495">0.9</text><rect x="500" class="o"/><text x="505">1.1</text><rect x="510" class="p"/><text x="515">1.2</text><rect x="520" class="p"/><text x="525">1.4</text><rect x="530" class="n"/><text x="535">1.0</text><rect x="540" class="n"/><text x="545">0.9</text><rect x="550" class="o"/><text x="555">1.0</text><rect x="560" class="l"/><text x="565">0.7</text><rect x="570" class="k"/><text x="575">0.6</text><rect x="580" class="i"/><text x="585">0.4</text><rect x="590" class="f"/><text x="595">0.2</text><rect x="600" class="h"/><text x="605">0.3</text><rect x="610" class="i"/><text x="615">0.5</text><rect x="620" class="i"/><text x="625">0.4</text><rect x="630" class="i"/><text x="635">0.4</text><rect x="640" class="f"/><text x="645">0.2</text></g>
<g transform="translate(0,307)"><rect x="130" class="b"/><text x="135">0.0</text><rect x="140" class="b"/><text x="145">0.0</text><rect x="150" class="b"/><text x="155">0.0</text><rect x="160" class="a"/><text x="165">0.0</text><rect x="390" class="c"/><text x="395">0.1</text><rect x="400" class="d"/><text x="405">0.1</text><rect x="410" class="h"/><text x="415">0.3</text><rect x="420" class="k"/><text x="425">0.6</text><rect x="430" class="k"/><text x="435">0.6</text><rect x="440" class="n"/><text x="445">1.0</text><rect x="450" class="n"/><text x="455">0.9</text><rect x="460" class="k"/><text x="465">0.6</text><rect x="470" class="j"/><text x="475">0.5</text><rect x="480" class="c"/><text x="485">0.1</text><rect x="510" class="d"/><text x="515">0.1</text><rect x="520" class="f"/><text x="525">0.2</text><rect x="530" class="g"/><text x="535">0.3</text><rect x="540" class="h"/><text x="545">0.3</text><rect x="550" class="f"/><text x="555">0.2</text><rect x="560" class="d"/><text x="565">0.1</text><rect x="570" class="c"/><text x="575">0.1</text><rect x="580" class="a"/><text x="585">0.0</text><rect x="610" class="c"/><text x="615">0.1</text><rect x="620" class="d"/><text x="625">0.1</text><rect x="630" class="d"/><text x="635">0.1</text><rect x="640" class="d"/><text x="645">0.1</text></g>
</g>
</svg>
<rect x="47" y="63" width="832" height="452" fill="none" stroke="#000" stroke-width="1.2"/>

<!-- colorbar -->
<g transform="translate(908,63)">
<rect y="0" width="20" height="17.3" fill="#dc00dc"/><rect y="17.27" width="20" height="17.3" fill="#c400c4"/><rect y="34.54" width="20" height="17.3" fill="#b000b0"/><rect y="51.81" width="20" height="17.3" fill="#900090"/><rect y="69.08" width="20" height="17.3" fill="#780078"/><rect y="86.35" width="20" height="17.3" fill="#6a5096"/><rect y="103.6" width="20" height="17.3" fill="#7460a8"/><rect y="120.9" width="20" height="17.3" fill="#9a88c4"/><rect y="138.2" width="20" height="17.3" fill="#aca0cc"/><rect y="155.4" width="20" height="17.3" fill="#d0cce0"/><rect y="172.7" width="20" height="17.3" fill="#f0dcd4"/><rect y="190" width="20" height="17.3" fill="#c8a096"/><rect y="207.2" width="20" height="17.3" fill="#b48c80"/><rect y="224.5" width="20" height="17.3" fill="#8c6458"/><rect y="241.8" width="20" height="17.3" fill="#6a3c30"/><rect y="259.1" width="20" height="17.3" fill="#880000"/><rect y="276.3" width="20" height="17.3" fill="#a80000"/><rect y="293.6" width="20" height="17.3" fill="#c80000"/><rect y="310.9" width="20" height="17.3" fill="#e01400"/><rect y="328.1" width="20" height="17.3" fill="#ff3000"/><rect y="345.4" width="20" height="17.3" fill="#ff5e00"/><rect y="362.7" width="20" height="17.3" fill="#ffa000"/><rect y="379.9" width="20" height="17.3" fill="#ffbf40"/><rect y="397.2" width="20" height="17.3" fill="#ffe374"/><rect y="414.5" width="20" height="17.3" fill="#fffab0"/><rect y="431.8" width="20" height="17.3" fill="#baf0fb"/><rect y="449" width="20" height="17.3" fill="#9ed2fb"/><rect y="466.3" width="20" height="17.3" fill="#50a5f5"/><rect y="483.6" width="20" height="17.3" fill="#2882ee"/><rect y="500.8" width="20" height="17.3" fill="#1464d0"/><rect y="518.1" width="20" height="17.3" fill="#0c9a0c"/><rect y="535.4" width="20" height="17.3" fill="#1eb01e"/><rect y="552.6" width="20" height="17.3" fill="#4ff04f"/><rect y="569.9" width="20" height="17.3" fill="#73ef6d"/><rect y="587.2" width="20" height="17.3" fill="#93f38a"/><rect y="604.5" width="20" height="17.3" fill="#b5f9a5"/><rect y="621.7" width="20" height="17.3" fill="#6e6e6e"/><rect y="639" width="20" height="17.3" fill="#828282"/><rect y="656.3" width="20" height="17.3" fill="#a8a4a4"/><rect y="673.5" width="20" height="17.3" fill="#bebebe"/><rect y="690.8" width="20" height="17.2" fill="#ffffff"/>
<rect width="20" height="708" fill="none" stroke="#000" stroke-width="1"/>
</g>
<g class="cb">
<text x="933" y="67">20</text><text x="933" y="84.3">19</text><text x="933" y="101.5">18</text><text x="933" y="118.8">17</text><text x="933" y="136.1">16</text><text x="933" y="153.4">15</text><text x="933" y="170.6">14</text><text x="933" y="187.9">13</text><text x="933" y="205.2">12</text><text x="933" y="222.4">11</text><text x="933" y="239.7">10</text><text x="933" y="257">9</text><text x="933" y="274.2">8</text><text x="933" y="291.5">7</text><text x="933" y="308.8">6</text><text x="933" y="326.1">5</text><text x="933" y="343.3">4</text><text x="933" y="360.6">3.5</text><text x="933" y="377.9">3</text><text x="933" y="395.1">2.5</text><text x="933" y="412.4">2</text><text x="933" y="429.7">1.8</text><text x="933" y="446.9">1.6</text><text x="933" y="464.2">1.4</text><text x="933" y="481.5">1.2</text><text x="933" y="498.8">1</text><text x="933" y="516">0.9</text><text x="933" y="533.3">0.8</text><text x="933" y="550.6">0.7</text><text x="933" y="567.8">0.6</text><text x="933" y="585.1">0.5</text><text x="933" y="602.4">0.4</text><text x="933" y="619.6">0.3</text><text x="933" y="636.9">0.25</text><text x="933" y="654.2">0.2</text><text x="933" y="671.5">0.15</text><text x="933" y="688.7">0.1</text><text x="933" y="706">0.08</text><text x="933" y="723.3">0.05</text><text x="933" y="740.5">0.02</text><text x="933" y="757.8">0.01</text><text x="933" y="775">0</text>
</g>

<!-- bottom chart -->
<rect x="47" y="531" width="832" height="198" fill="#f4f4f4"/>
<path d="M53.3 531V729M78.9 531V729M104.5 531V729M130.2 531V729M155.8 531V729M181.4 531V729M207 531V729M232.6 531V729M258.3 531V729M283.9 531V729M309.5 531V729M335.1 531V729M360.7 531V729M386.4 531V729M412 531V729M437.6 531V729M463.2 531V729M488.8 531V729M514.5 531V729M540.1 531V729M565.7 531V729M591.3 531V729M616.9 531V729M642.6 531V729M668.2 531V729M693.8 531V729M719.4 531V729M745 531V729M770.7 531V729M796.3 531V729M821.9 531V729M847.5 531V729M873.1 531V729M47 544.3H879M47 581.2H879M47 618.2H879M47 655.1H879M47 692.1H879" stroke="#b8b8b8" stroke-width="0.8" stroke-dasharray="1.2,2" fill="none"/>
<path d="M117.4 729V725.3M114.4 725.3H120.4M130.2 729V716M127.2 716H133.2M143 729V714.3M140 714.3H146M155.8 729V713.3M152.8 713.3H158.8M168.6 729V713.3M165.6 713.3H171.6M181.4 729V721.7M178.4 721.7H184.4M194.2 729V727.3M191.2 727.3H197.2M207 729V725.7M204 725.7H210M219.8 729V724.3M216.8 724.3H222.8M232.6 729V724.3M229.6 724.3H235.6M245.5 729V724.3M242.5 724.3H248.5M258.3 729V724.3M255.3 724.3H261.3M271.1 729V724.3M268.1 724.3H274.1M283.9 729V727.3M280.9 727.3H286.9M450.4 729V720.3M447.4 720.3H453.4M463.2 729V720.3M460.2 720.3H466.2M476 729V712.3M473 712.3H479M488.8 729V709M485.8 709H491.8M501.6 726.3V684.3M498.6 684.3H504.6M514.5 722.3V672M511.5 672H517.5M527.3 713.3V640.3M524.3 640.3H530.3M540.1 712.7V607M537.1 607H543.1M552.9 715V563.3M549.9 563.3H555.9M565.7 705.3V596.7M562.7 596.7H568.7M578.5 704.3V593.3M575.5 593.3H581.5M591.3 691V624M588.3 624H594.3M604.1 704.3V624M601.1 624H607.1M616.9 703.3V597M613.9 597H619.9M629.7 702.3V599M626.7 599H632.7M642.6 704.3V599M639.6 599H645.6M655.4 687.3V570M652.4 570H658.4M668.2 678.3V545M665.2 545H671.2M681 683.3V559M678 559H684M693.8 691V585.3M690.8 585.3H696.8M706.6 690V627M703.6 627H709.6M719.4 691V626M716.4 626H722.4M732.2 696.3V657M729.2 657H735.2M745 699V661M742 661H748M757.9 700.3V652.3M754.9 652.3H760.9M770.7 691V635M767.7 635H773.7M783.5 692.3V657.3M780.5 657.3H786.5M796.3 695.3V636M793.3 636H799.3M809.1 693.3V635M806.1 635H812.1M821.9 701V633.3M818.9 633.3H824.9M834.7 695.3V632.3M831.7 632.3H837.7M847.5 696.3V672M844.5 672H850.5M860.3 703.3V621.3M857.3 621.3H863.3M873.1 706.3V618.3M870.1 618.3H876.1" stroke="#333" stroke-width="0.9" fill="none"/>
<g fill="#b0c4de" stroke="#444" stroke-width="0.8">
<rect x="498.1" y="726.3" width="7" height="2.7"/><rect x="511" y="722.3" width="7" height="6.7"/><rect x="523.8" y="713.3" width="7" height="15.7"/><rect x="536.6" y="712.7" width="7" height="16.3"/><rect x="549.4" y="715" width="7" height="14"/><rect x="562.2" y="705.3" width="7" height="23"/><rect x="575" y="704.3" width="7" height="24"/><rect x="587.8" y="691" width="7" height="37.3"/><rect x="600.6" y="704.3" width="7" height="24"/><rect x="613.4" y="703.3" width="7" height="24.7"/><rect x="626.2" y="702.3" width="7" height="26"/><rect x="639.1" y="704.3" width="7" height="24.7"/><rect x="651.9" y="687.3" width="7" height="41.7"/><rect x="664.7" y="678.3" width="7" height="50"/><rect x="677.5" y="683.3" width="7" height="45.7"/><rect x="690.3" y="691" width="7" height="35.7"/><rect x="703.1" y="690" width="7" height="36.3"/><rect x="715.9" y="691" width="7" height="35.7"/><rect x="728.7" y="696.3" width="7" height="30.4"/><rect x="741.5" y="699" width="7" height="27.7"/><rect x="754.4" y="700.3" width="7" height="28"/><rect x="767.2" y="691" width="7" height="36.7"/><rect x="780" y="692.3" width="7" height="35.4"/><rect x="792.8" y="695.3" width="7" height="32.4"/><rect x="805.6" y="693.3" width="7" height="32.7"/><rect x="818.4" y="701" width="7" height="25.3"/><rect x="831.2" y="695.3" width="7" height="31.7"/><rect x="844" y="696.3" width="7" height="31.4"/><rect x="856.8" y="703.3" width="7" height="23"/><rect x="869.6" y="706.3" width="7" height="19.4"/>
</g>
<path d="M562.2 726h7M575 726h7M587.8 726h7M600.6 726h7M613.4 725h7M626.2 722h7M639.1 713.3h7M651.9 719h7M664.7 719.3h7M677.5 720h7M690.3 707.3h7M703.1 714.3h7M715.9 711.7h7M728.7 713.3h7M741.5 720h7M754.4 715h7M767.2 712.3h7M780 714.3h7M792.8 709h7M805.6 712.3h7M818.4 719h7M831.2 716.3h7M844 714.3h7M856.8 718.3h7M869.6 715.3h7" stroke="#333" stroke-width="0.9"/>
<defs>
<marker id="mb" viewBox="0 0 4 4" refX="2" refY="2" markerWidth="3" markerHeight="3" markerUnits="userSpaceOnUse"><rect width="4" height="4" fill="#0000cc"/></marker>
<marker id="mg" viewBox="0 0 4 4" refX="2" refY="2" markerWidth="3" markerHeight="3" markerUnits="userSpaceOnUse"><rect width="4" height="4" fill="#118811"/></marker>
</defs>
<polyline fill="none" stroke="#1a8a1a" stroke-width="1.3" marker-start="url(#mg)" marker-mid="url(#mg)" marker-end="url(#mg)" points="53.3,728.8 66.1,728.8 78.9,728.8 91.7,728.8 104.5,728.8 117.4,728 130.2,727 143,726.5 155.8,726.5 168.6,727 181.4,727.5 194.2,728.3 207,728.5 219.8,728 232.6,728 245.5,728 258.3,728 271.1,728 283.9,728.8 296.7,728.8 309.5,728.8 322.3,728.8 335.1,728.8 347.9,728.8 360.7,728.8 373.6,728.8 386.4,728.8 399.2,728.8 412,728.8 424.8,728.8 437.6,728.8 450.4,728 463.2,728 476,727.3 488.8,726.7 501.6,725 514.5,720 527.3,716 540.1,713 552.9,710.7 565.7,710 578.5,710 591.3,708 604.1,710.7 616.9,708 629.7,706.7 642.6,704 655.4,697.7 668.2,697.7 681,698 693.8,697 706.6,703 719.4,706.3 732.2,708 745,712 757.9,709.3 770.7,706 783.5,707 796.3,705 809.1,705 821.9,707.7 834.7,707.3 847.5,711 860.3,709.7 873.1,709"/>
<polyline fill="none" stroke="#0000dd" stroke-width="1.2" marker-start="url(#mb)" marker-mid="url(#mb)" marker-end="url(#mb)" points="53.3,728.8 66.1,728.8 78.9,728.8 91.7,728.8 104.5,728.8 117.4,728.8 130.2,728.8 143,728.8 155.8,728.8 168.6,728.8 181.4,728.8 194.2,728.8 207,728.8 219.8,727 232.6,726.5 245.5,726.5 258.3,727 271.1,728.5 283.9,728.8 296.7,728.8 309.5,728.8 322.3,728.8 335.1,728.8 347.9,728.8 360.7,728.8 373.6,728.8 386.4,728.8 399.2,728.8 412,728.8 424.8,728.8 437.6,728.8 450.4,728.8 463.2,728.8 476,728.8 488.8,728.8 501.6,728.8 514.5,728.8 527.3,728.8 540.1,728.8 552.9,723.3 565.7,717.7 578.5,705 591.3,688 604.1,685 616.9,656 629.7,665 642.6,681 655.4,689 668.2,723.3 681,728.3 693.8,728.3 706.6,720 719.4,711.7 732.2,707.7 745,704 757.9,713.3 770.7,721 783.5,725 796.3,727.7 809.1,728.3 821.9,727.7 834.7,725 847.5,725 860.3,724 873.1,720.3"/>
<rect x="47" y="531" width="832" height="198" fill="none" stroke="#000" stroke-width="1.2"/>
<!-- legend -->
<rect x="775" y="539" width="97" height="47" rx="3" fill="#fff" fill-opacity="0.9" stroke="#ccc"/>
<line x1="780" y1="549" x2="809" y2="549" stroke="#0000dd" stroke-width="1.3"/><rect x="793" y="547.5" width="3" height="3" fill="#0000cc"/>
<line x1="780" y1="571" x2="809" y2="571" stroke="#1a8a1a" stroke-width="1.3"/><rect x="793" y="569.5" width="3" height="3" fill="#118811"/>
<text x="819" y="554" font-family="DejaVu Sans,sans-serif" font-size="13" fill="#111">Control</text>
<text x="819" y="576" font-family="DejaVu Sans,sans-serif" font-size="13" fill="#111">Mean</text>
<!-- y axis -->
<g font-family="DejaVu Sans,sans-serif" font-size="13" text-anchor="end" fill="#111">
<text x="38" y="548.8">2.5</text><text x="38" y="585.7">2.0</text><text x="38" y="622.7">1.5</text><text x="38" y="659.6">1.0</text><text x="38" y="696.6">0.5</text><text x="38" y="733.5">0.0</text>
</g>
<path d="M42 544.3H47M42 581.2H47M42 618.2H47M42 655.1H47M42 692.1H47M42 729H47" stroke="#000"/>
<!-- x ticks -->
<path d="M53.3 729v5M78.9 729v5M104.5 729v5M130.2 729v5M155.8 729v5M181.4 729v5M207 729v5M232.6 729v5M258.3 729v5M283.9 729v5M309.5 729v5M335.1 729v5M360.7 729v5M386.4 729v5M412 729v5M437.6 729v5M463.2 729v5M488.8 729v5M514.5 729v5M540.1 729v5M565.7 729v5M591.3 729v5M616.9 729v5M642.6 729v5M668.2 729v5M693.8 729v5M719.4 729v5M745 729v5M770.7 729v5M796.3 729v5M821.9 729v5M847.5 729v5M873.1 729v5M66.1 729v3M91.7 729v3M117.4 729v3M143 729v3M168.6 729v3M194.2 729v3M219.8 729v3M245.5 729v3M271.1 729v3M296.7 729v3M322.3 729v3M347.9 729v3M373.6 729v3M399.2 729v3M424.8 729v3M450.4 729v3M476 729v3M501.6 729v3M527.3 729v3M552.9 729v3M578.5 729v3M604.1 729v3M629.7 729v3M655.4 729v3M681 729v3M706.6 729v3M732.2 729v3M757.9 729v3M783.5 729v3M809.1 729v3M834.7 729v3M860.3 729v3" stroke="#000"/>
<g class="xl">
<text transform="translate(56,736) rotate(-90)">10-12z</text><text transform="translate(81.6,736) rotate(-90)">11-00z</text><text transform="translate(107.2,736) rotate(-90)">11-12z</text><text transform="translate(132.9,736) rotate(-90)">12-00z</text><text transform="translate(158.5,736) rotate(-90)">12-12z</text><text transform="translate(184.1,736) rotate(-90)">13-00z</text><text transform="translate(209.7,736) rotate(-90)">13-12z</text><text transform="translate(235.3,736) rotate(-90)">14-00z</text><text transform="translate(261,736) rotate(-90)">14-12z</text><text transform="translate(286.6,736) rotate(-90)">15-00z</text><text transform="translate(312.2,736) rotate(-90)">15-12z</text><text transform="translate(337.8,736) rotate(-90)">16-00z</text><text transform="translate(363.4,736) rotate(-90)">16-12z</text><text transform="translate(389.1,736) rotate(-90)">17-00z</text><text transform="translate(414.7,736) rotate(-90)">17-12z</text><text transform="translate(440.3,736) rotate(-90)">18-00z</text><text transform="translate(465.9,736) rotate(-90)">18-12z</text><text transform="translate(491.5,736) rotate(-90)">19-00z</text><text transform="translate(517.2,736) rotate(-90)">19-12z</text><text transform="translate(542.8,736) rotate(-90)">20-00z</text><text transform="translate(568.4,736) rotate(-90)">20-12z</text><text transform="translate(594,736) rotate(-90)">21-00z</text><text transform="translate(619.6,736) rotate(-90)">21-12z</text><text transform="translate(645.3,736) rotate(-90)">22-00z</text><text transform="translate(670.9,736) rotate(-90)">22-12z</text><text transform="translate(696.5,736) rotate(-90)">23-00z</text><text transform="translate(722.1,736) rotate(-90)">23-12z</text><text transform="translate(747.7,736) rotate(-90)">24-00z</text><text transform="translate(773.4,736) rotate(-90)">24-12z</text><text transform="translate(799,736) rotate(-90)">25-00z</text><text transform="translate(824.6,736) rotate(-90)">25-12z</text><text transform="translate(850.2,736) rotate(-90)">26-00z</text><text transform="translate(875.8,736) rotate(-90)">26-12z</text>
</g>
<line x1="47" y1="772" x2="879" y2="772" stroke="#000" stroke-width="1.2"/>
<g class="dl">
<text x="53.3" y="784">Thu</text><text x="78.9" y="784">Fri</text><text x="104.5" y="784">Fri</text><text x="130.2" y="784">Sat</text><text x="155.8" y="784">Sat</text><text x="181.4" y="784">Sun</text><text x="207" y="784">Sun</text><text x="232.6" y="784">Mon</text><text x="258.3" y="784">Mon</text><text x="283.9" y="784">Tue</text><text x="309.5" y="784">Tue</text><text x="335.1" y="784">Wed</text><text x="360.7" y="784">Wed</text><text x="386.4" y="784">Thu</text><text x="412" y="784">Thu</text><text x="437.6" y="784">Fri</text><text x="463.2" y="784">Fri</text><text x="488.8" y="784">Sat</text><text x="514.5" y="784">Sat</text><text x="540.1" y="784">Sun</text><text x="565.7" y="784">Sun</text><text x="591.3" y="784">Mon</text><text x="616.9" y="784">Mon</text><text x="642.6" y="784">Tue</text><text x="668.2" y="784">Tue</text><text x="693.8" y="784">Wed</text><text x="719.4" y="784">Wed</text><text x="745" y="784">Thu</text><text x="770.7" y="784">Thu</text><text x="796.3" y="784">Fri</text><text x="821.9" y="784">Fri</text><text x="847.5" y="784">Sat</text><text x="873.1" y="784">Sat</text>
</g>
<text x="568" y="798" font-family="DejaVu Sans,sans-serif" font-size="8" fill="#111" textLength="398" lengthAdjust="spacingAndGlyphs">© 2022 WeatherBELL Analytics, LLC. All rights reserved. License required for commercial distribution.</text>
</svg>
</body></html>
